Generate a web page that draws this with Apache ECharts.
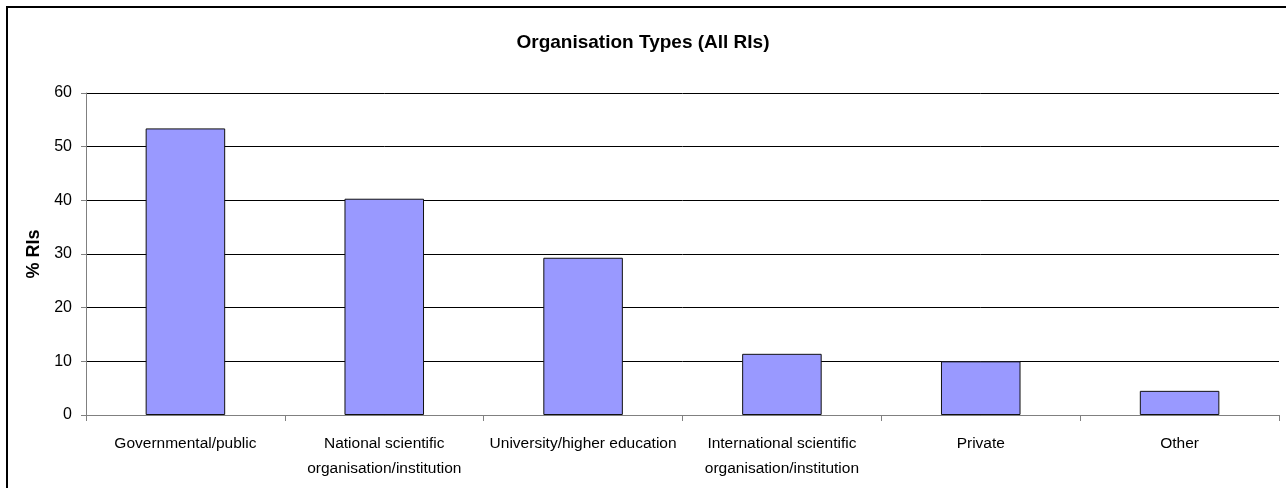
<!DOCTYPE html>
<html>
<head>
<meta charset="utf-8">
<script src="https://cdn.jsdelivr.net/npm/echarts@6/dist/echarts.min.js"></script>
<style>
  html, body { margin: 0; padding: 0; background: #fff; }
  #chart { width: 1286px; height: 488px; }
</style>
</head>
<body>
<div id="chart"></div>
<script>
// data
const categories = [
  'Governmental/public',
  'National scientific\norganisation/institution',
  'University/higher education',
  'International scientific\norganisation/institution',
  'Private',
  'Other'
];
const percentRIs = [53.4, 40.3, 29.3, 11.4, 10.0, 4.5];
const yTicks = [0, 10, 20, 30, 40, 50, 60];

const font = 'Liberation Sans, Arial, sans-serif';

const myChart = echarts.init(document.getElementById('chart'));
const option = {
  backgroundColor: '#fff',
  animation: false,
  title: {
    text: 'Organisation Types (All RIs)',
    left: 'center',
    top: 28,
    textStyle: { fontFamily: font, fontSize: 19, fontWeight: 'bold', color: '#000' }
  },
  graphic: [{
    type: 'rect',
    shape: { x: 7, y: 7, width: 1300, height: 500 },
    style: { fill: 'none', stroke: '#000', lineWidth: 2 },
    silent: true
  }],
  grid: { left: 86, right: 7, top: 93, bottom: 73 },
  xAxis: {
    type: 'category',
    data: categories,
    axisLine: { lineStyle: { color: '#808080', width: 1 } },
    axisTick: { show: true, length: 6, lineStyle: { color: '#808080' } },
    axisLabel: {
      interval: 0,
      margin: 16,
      fontFamily: font,
      fontSize: 15.5,
      lineHeight: 25,
      color: '#000'
    },
    splitLine: { show: false }
  },
  yAxis: {
    type: 'value',
    min: yTicks[0],
    max: yTicks[yTicks.length - 1],
    interval: 10,
    name: '% RIs',
    nameLocation: 'middle',
    nameGap: 38,
    nameTextStyle: { fontFamily: font, fontSize: 18, fontWeight: 'bold', color: '#000' },
    axisLine: { show: true, lineStyle: { color: '#808080', width: 1 } },
    axisTick: { show: true, length: 5, lineStyle: { color: '#808080' } },
    axisLabel: { margin: 14, fontFamily: font, fontSize: 16, color: '#000' },
    splitLine: { show: true, lineStyle: { color: '#000', width: 1 } }
  },
  series: [{
    type: 'bar',
    data: percentRIs,
    barWidth: '40%',
    itemStyle: { color: '#9999FF', borderColor: '#111', borderWidth: 1 }
  }]
};
myChart.setOption(option);
window.addEventListener('resize', () => {
  myChart.resize()
});
</script>
</body>
</html>
